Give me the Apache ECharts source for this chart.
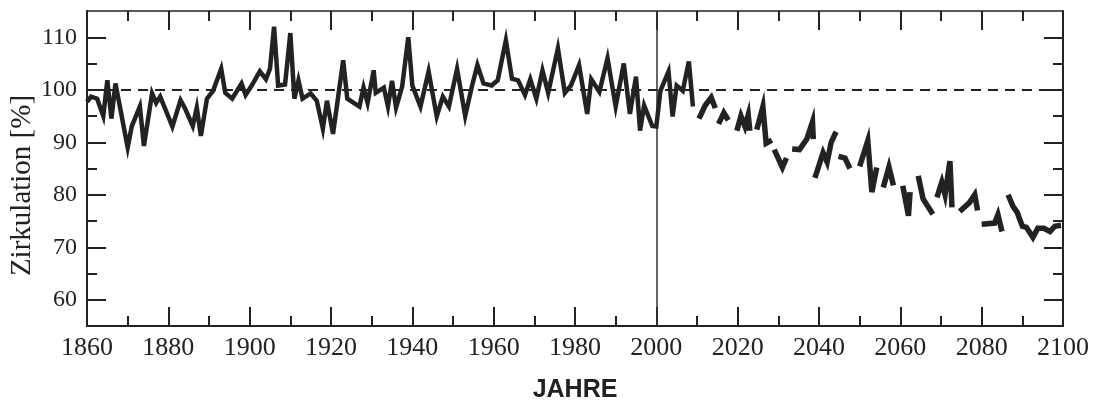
<!DOCTYPE html>
<html>
<head>
<meta charset="utf-8">
<script src="https://cdn.jsdelivr.net/npm/echarts@6/dist/echarts.min.js"></script>
<style>
  html, body { margin: 0; padding: 0; background: #ffffff; }
  #chart { width: 1101px; height: 402px; }
</style>
</head>
<body>
<div id="chart"></div>
<script>
// ---- data ----
var histYears = [1860, 1861, 1862.5, 1864, 1865, 1866, 1867, 1870, 1871, 1873, 1874, 1876, 1877, 1878,
  1881, 1883, 1884, 1886, 1887, 1888, 1889.5, 1891, 1893, 1894, 1895.7, 1898, 1899, 1900.5, 1902.5,
  1904, 1905, 1906, 1907, 1908.7, 1910, 1911, 1912, 1913, 1915, 1916.5, 1918, 1919, 1920.5, 1923,
  1924, 1927, 1928, 1929, 1930.5, 1931, 1933, 1934, 1935, 1936, 1937.5, 1939, 1940, 1942, 1944,
  1946, 1947.5, 1949, 1951, 1953, 1954.7, 1956, 1957.5, 1959.5, 1961, 1963, 1964.5, 1966, 1967.7,
  1969, 1970.5, 1972, 1973.4, 1975.8, 1977.5, 1979, 1981, 1983, 1984, 1986, 1988, 1990, 1992,
  1993.5, 1995, 1996, 1997, 1999, 2000, 2001, 2003, 2004, 2005, 2006.5, 2008, 2009];
var histValues = [97.7, 98.7, 98.3, 95, 101.8, 94.5, 101.2, 89, 93, 96.8, 89.3, 99.3, 97.5, 98.7,
  93, 98, 96.6, 93.1, 96.6, 91.2, 98.3, 99.8, 104, 99.4, 98.3, 101.2, 99, 100.8, 103.5,
  102, 104, 112, 100.8, 101, 110.8, 98.3, 101.8, 98.3, 99.3, 97.9, 92.6, 97.9, 91.6, 105.6,
  98.3, 96.8, 100.4, 97.5, 103.7, 99.4, 100.4, 96.8, 101.7, 96.6, 100.6, 110, 100.8, 96.8, 103.5,
  94.9, 98.7, 96.8, 104, 95, 100.8, 104.7, 101.2, 100.8, 101.8, 109.4, 102.1, 101.8, 99,
  102, 98.3, 103.7, 99.4, 107.9, 99.4, 100.8, 104.7, 95.4, 102, 99.6, 106, 96.8, 105,
  95.4, 102.5, 92.2, 97, 93.1, 93, 99.8, 103.5, 94.9, 100.8, 99.8, 105.4, 96.8];

// projection (null = gap between pieces)
var futYears = [2010.5, 2012, 2013.5, 2014.5, 2015,
  2015.3, 2016.6, 2017.7, 2019,
  2019.8, 2020.8, 2021.8, 2022.6, 2023, 2024,
  2024.7, 2026.2, 2027, 2028.4, 2028.7,
  2029, 2031, 2032, 2032.7,
  2033.4, 2035.2, 2037, 2038.4, 2038.6, 2038.8,
  2039, 2041, 2042, 2043, 2044.2, 2044.5,
  2044.8, 2046.4, 2047.6, 2049,
  2050, 2052, 2053, 2054.2, 2055,
  2055.8, 2057.2, 2058.3, 2059.5,
  2060.6, 2062, 2062.4, 2063.5,
  2064.4, 2065.6, 2068, 2068.5,
  2069, 2070.2, 2071, 2072.2, 2072.7, 2073.8,
  2074.6, 2077, 2078.3, 2079, 2079.5,
  2080, 2083.2, 2084, 2085, 2085.8,
  2086.5, 2087.7, 2088.7, 2090, 2091, 2092.6, 2093.8, 2095.3, 2096.8, 2098, 2099.5];
var futValues = [94.5, 97, 98.5, 96.5, null,
  93.5, 95.6, 94.2, null,
  92.2, 95, 93, 95.2, 92.2, null,
  92.4, 96.8, 89.8, 90.4, null,
  88.6, 85.2, 87, null,
  88.7, 88.6, 90.6, 93.9, 90.6, null,
  83.2, 88, 86.2, 90, 92, null,
  87.3, 87, 85, null,
  85.4, 90.3, 80.5, 85.2, null,
  81.4, 85.3, 81.8, null,
  81.7, 76, 80.5, null,
  83.6, 79.2, 76.3, null,
  79.5, 82.4, 80, 86.4, 77.6, null,
  76.8, 78.5, 80, 77, null,
  74.4, 74.6, 76.2, 73, null,
  80, 77.8, 76.7, 74, 73.8, 71.9, 73.6, 73.6, 73, 74, 74.2];

var yMajorTicks = [60, 70, 80, 90, 100, 110];
var yMinorTicks = [65, 75, 85, 95, 105];
var referenceLevel = 100;
var splitYear = 2000;

// ---- chart ----
var ink = '#222222';
var serif = '"Liberation Serif", "DejaVu Serif", serif';

function pairs(xs, ys) {
  return xs.map(function (x, i) { return [x, ys[i] == null ? '-' : ys[i]]; });
}

var chart = echarts.init(document.getElementById('chart'), null, { renderer: 'canvas' });

var baseX = {
  type: 'value', min: 1860, max: 2100, interval: 20,
  splitLine: { show: false },
  axisLine: { show: true, lineStyle: { color: ink, width: 2 } },
  axisTick: { show: true, inside: true, length: 19, lineStyle: { color: ink, width: 2 } },
  minorTick: { show: true, splitNumber: 2, length: 10, lineStyle: { color: ink, width: 2 } },
  minorSplitLine: { show: false }
};

function yAxisDef(pos, ticks, len, showLabels, showLine) {
  return {
    type: 'value', position: pos, min: 55, max: 115,
    splitLine: { show: false },
    axisLine: { show: showLine, onZero: false, lineStyle: { color: ink, width: 2 } },
    axisTick: { show: true, inside: true, length: len, customValues: ticks,
                lineStyle: { color: ink, width: 2 } },
    axisLabel: showLabels ? {
      show: true, customValues: yMajorTicks, margin: 10,
      fontFamily: serif, fontSize: 24, color: ink
    } : { show: false }
  };
}

var yLeft = yAxisDef('left', yMajorTicks, 19, true, true);
yLeft.name = 'Zirkulation [%]';
yLeft.nameLocation = 'middle';
yLeft.nameRotate = 90;
yLeft.nameGap = 50;
yLeft.nameMoveOverlap = false;
yLeft.nameTextStyle = { fontFamily: serif, fontSize: 29, color: ink, padding: [0, 34, 0, 0] };

var option = {
  backgroundColor: '#ffffff',
  animation: false,
  grid: { left: 87, right: 38, top: 11, bottom: 76, containLabel: false, outerBoundsMode: 'none' },
  xAxis: [
    Object.assign({}, baseX, {
      position: 'bottom',
      axisLabel: { show: true, margin: 9, fontFamily: serif, fontSize: 26, color: ink,
                   formatter: function (v) { return String(v); } },
      name: 'JAHRE', nameLocation: 'middle', nameGap: 52,
      nameTextStyle: { fontFamily: '"Liberation Sans", Arial, sans-serif', fontWeight: 'bold',
                       fontSize: 25, color: ink }
    }),
    Object.assign({}, baseX, {
      position: 'top',
      axisLabel: { show: false },
      axisLine: { show: true, lineStyle: { color: ink, width: 1.5 } }
    })
  ],
  yAxis: [
    yLeft,
    yAxisDef('left', yMinorTicks, 10, false, false),
    yAxisDef('right', yMajorTicks, 19, false, true),
    yAxisDef('right', yMinorTicks, 10, false, false)
  ],
  series: [
    {
      type: 'line', name: 'historisch', xAxisIndex: 0, yAxisIndex: 0,
      data: pairs(histYears, histValues),
      showSymbol: false, symbol: 'none', z: 3,
      lineStyle: { color: ink, width: 4.5, join: 'miter', miterLimit: 6 },
      markLine: {
        silent: true, symbol: 'none', label: { show: false }, z: 2,
        data: [
          { yAxis: referenceLevel, lineStyle: { color: ink, width: 2, type: [10, 7] } },
          { xAxis: splitYear, lineStyle: { color: '#333333', width: 1.5, type: 'solid' } }
        ]
      }
    },
    {
      type: 'line', name: 'Projektion', xAxisIndex: 0, yAxisIndex: 0,
      data: pairs(futYears, futValues),
      connectNulls: false, showSymbol: false, symbol: 'none', z: 3,
      lineStyle: { color: ink, width: 5.5, join: 'miter', miterLimit: 6 }
    }
  ]
};

chart.setOption(option);
</script>
</body>
</html>
